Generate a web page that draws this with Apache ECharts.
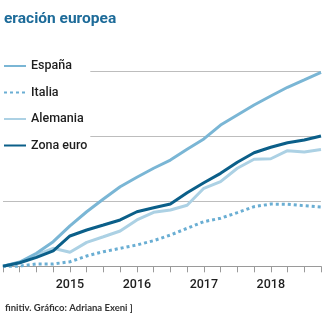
<!DOCTYPE html>
<html>
<head>
<meta charset="utf-8">
<script src="https://cdn.jsdelivr.net/npm/echarts@6/dist/echarts.min.js"></script>
<style>
  html, body { margin: 0; padding: 0; background: #fff; }
  #chart { width: 324px; height: 324px; }
</style>
</head>
<body>
<div id="chart"></div>
<script>
// Quarterly index values (base 2014 Q1 = 100)
const quarters = [2014.0, 2014.25, 2014.5, 2014.75,
  2015.0, 2015.25, 2015.5, 2015.75,
  2016.0, 2016.25, 2016.5, 2016.75,
  2017.0, 2017.25, 2017.5, 2017.75,
  2018.0, 2018.25, 2018.5, 2018.75];

const espana = [100, 100.33, 101.0, 101.89,
  103.10, 104.19, 105.17, 106.11,
  106.84, 107.53, 108.16, 108.99,
  109.78, 110.85, 111.62, 112.39,
  113.08, 113.75, 114.31, 114.90];

const italia = [99.8, 100.02, 100.18, 100.18,
  100.35, 100.79, 101.12, 101.38,
  101.64, 101.97, 102.40, 102.92,
  103.43, 103.69, 104.12, 104.58,
  104.78, 104.76, 104.65, 104.55];

const alemania = [100, 100.29, 100.87, 101.38,
  101.08, 101.84, 102.27, 102.71,
  103.56, 104.15, 104.32, 104.69,
  105.99, 106.50, 107.53, 108.22,
  108.26, 108.88, 108.78, 108.97];

const zonaEuro = [100, 100.27, 100.69, 101.18,
  102.33, 102.79, 103.17, 103.56,
  104.19, 104.50, 104.78, 105.65,
  106.42, 107.14, 107.99, 108.72,
  109.14, 109.49, 109.70, 110.01];

const seriesNames = ['España', 'Italia', 'Alemania', 'Zona euro'];

const titleText = 'eración europea';
const sourceText = 'finitiv. Gráfico: Adriana Exeni ]';

const labelFont = 'Roboto, sans-serif';

function pairs(values) {
  return quarters.map((q, i) => [q, values[i]]);
}

const chart = echarts.init(document.getElementById('chart'), null, { renderer: 'canvas' });

chart.setOption({
  backgroundColor: '#ffffff',
  animation: false,
  title: [
    {
      text: titleText,
      left: -1, top: 6,
      textStyle: { fontFamily: 'Roboto', fontWeight: 'bold', fontSize: 15.5, color: '#1d6b99' }
    },
    {
      text: sourceText,
      left: 0, top: 298,
      textStyle: { fontFamily: 'Lato', fontWeight: 'bold', fontSize: 9.5, color: '#333333' }
    }
  ],
  legend: {
    orient: 'vertical',
    left: 0, top: 54,
    padding: [5, 3, 5, 3],
    backgroundColor: '#ffffff',
    itemWidth: 22, itemHeight: 14,
    itemGap: 12.5,
    itemStyle: { opacity: 0 },
    data: seriesNames,
    textStyle: { fontFamily: labelFont, fontWeight: 500, fontSize: 12.5, color: '#1e1e1e', lineHeight: 14 }
  },
  grid: { left: -13.3, right: -4.7, top: 71, bottom: 57.7 },
  xAxis: {
    type: 'value',
    min: 2014, max: 2018.75, interval: 0.25,
    axisLine: { lineStyle: { color: '#9a9a9a', width: 1 } },
    axisTick: { show: true, length: 6, lineStyle: { color: '#9a9a9a' } },
    splitLine: { show: false },
    axisLabel: {
      margin: 12,
      fontFamily: labelFont, fontWeight: 500, fontSize: 12.5, color: '#1e1e1e',
      formatter: v => (Math.abs(v - Math.round(v)) < 1e-6 && v > 2014) ? String(Math.round(v)) : ''
    }
  },
  yAxis: {
    type: 'value',
    min: 100, max: 115, interval: 5,
    axisLine: { show: false },
    axisTick: { show: false },
    axisLabel: { show: false },
    splitLine: { lineStyle: { color: '#bdbdbd', width: 1 } }
  },
  series: [
    {
      name: 'España', type: 'line', data: pairs(espana), showSymbol: false, symbol: 'none',
      lineStyle: { color: '#7ab6d5', width: 3 }, itemStyle: { color: '#7ab6d5' }, z: 3
    },
    {
      name: 'Italia', type: 'line', data: pairs(italia), showSymbol: false, symbol: 'none',
      lineStyle: { color: '#6aaed3', width: 3, type: [3, 3], cap: 'butt' }, itemStyle: { color: '#6aaed3' }, z: 2
    },
    {
      name: 'Alemania', type: 'line', data: pairs(alemania), showSymbol: false, symbol: 'none',
      lineStyle: { color: '#acd1e4', width: 3 }, itemStyle: { color: '#acd1e4' }, z: 2
    },
    {
      name: 'Zona euro', type: 'line', data: pairs(zonaEuro), showSymbol: false, symbol: 'none',
      lineStyle: { color: '#0b5f89', width: 3 }, itemStyle: { color: '#0b5f89' }, z: 4
    }
  ]
});
</script>
</body>
</html>
